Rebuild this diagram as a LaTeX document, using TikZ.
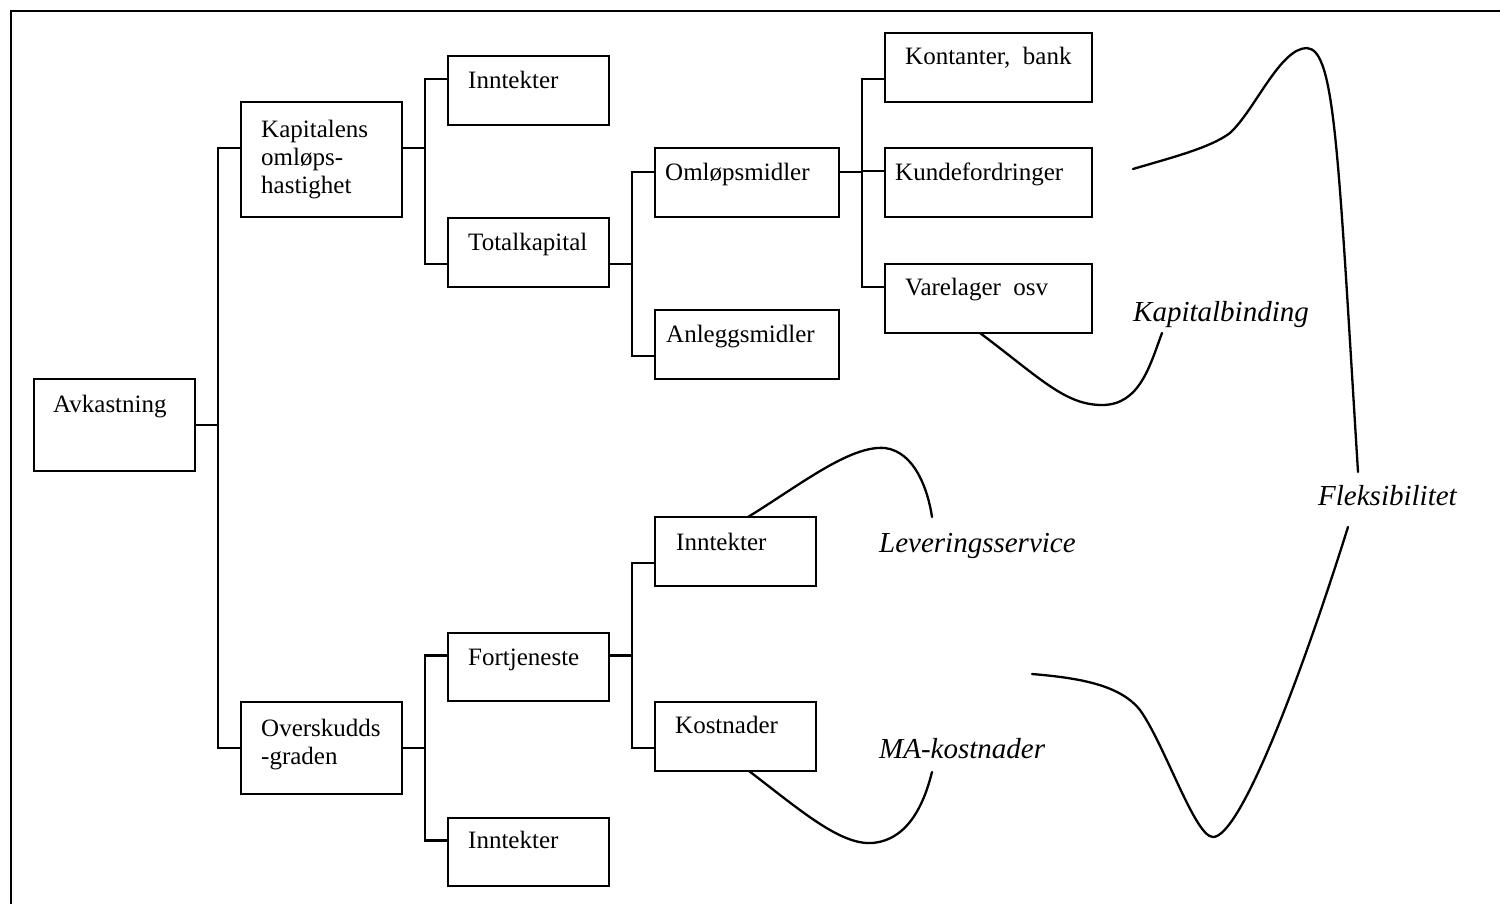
\documentclass[tikz,border=0pt]{standalone}
\usepackage{fontspec}
\setmainfont{Liberation Serif}
\usetikzlibrary{calc}
\begin{document}
\begin{tikzpicture}[x=1pt,y=-1pt,
  box/.style={draw, line width=2.8pt, anchor=north west, inner sep=0pt, outer sep=0pt},
  lbl/.style={anchor=base west, inner sep=0pt, font=\fontsize{25}{28}\selectfont},
  itag/.style={anchor=base west, inner sep=0pt, font=\fontsize{29}{32}\selectfont\itshape},
  conn/.style={line width=2.5pt},
  swoop/.style={line width=2.3pt, line cap=round},
]
\useasboundingbox (0,0) rectangle (1500,903);

% outer frame (open to the right and bottom)
\draw[line width=2.8pt] (11,910) -- (11,11) -- (1510,11);

% boxes
\node[box, minimum width=161, minimum height=92]  (av)   at (34,379)  {};
\node[box, minimum width=161, minimum height=115] (kap)  at (241,102) {};
\node[box, minimum width=161, minimum height=92]  (ovr)  at (241,702) {};
\node[box, minimum width=161, minimum height=69]  (inn1) at (448,56)  {};
\node[box, minimum width=161, minimum height=69]  (tot)  at (448,218) {};
\node[box, minimum width=161, minimum height=68]  (fort) at (448,633) {};
\node[box, minimum width=161, minimum height=68]  (inn3) at (448,818) {};
\node[box, minimum width=184, minimum height=69]  (oml)  at (655,148) {};
\node[box, minimum width=184, minimum height=69]  (anl)  at (655,310) {};
\node[box, minimum width=161, minimum height=69]  (inn2) at (655,517) {};
\node[box, minimum width=161, minimum height=69]  (kost) at (655,702) {};
\node[box, minimum width=207, minimum height=69]  (kont) at (885,33)  {};
\node[box, minimum width=207, minimum height=69]  (kund) at (885,148) {};
\node[box, minimum width=207, minimum height=69]  (var)  at (885,264) {};

% box texts
\node[lbl] (av-t)   at ([shift={(19,33)}]av.north west)   {Avkastning};
\node[lbl, align=left] (kap-t) at ([shift={(20,91)}]kap.north west) {Kapitalens\\omløps-\\hastighet};
\node[lbl, align=left] (ovr-t) at ([shift={(20,62)}]ovr.north west) {Overskudds\\-graden};
\node[lbl] (inn1-t) at ([shift={(20,32)}]inn1.north west) {Inntekter};
\node[lbl] (tot-t)  at ([shift={(20,32)}]tot.north west)  {Totalkapital};
\node[lbl] (fort-t) at ([shift={(20,32)}]fort.north west) {Fortjeneste};
\node[lbl] (inn3-t) at ([shift={(20,30)}]inn3.north west) {Inntekter};
\node[lbl] (oml-t)  at ([shift={(10,32)}]oml.north west)  {Omløpsmidler};
\node[lbl] (anl-t)  at ([shift={(11,32)}]anl.north west)  {Anleggsmidler};
\node[lbl] (inn2-t) at ([shift={(21,33)}]inn2.north west) {Inntekter};
\node[lbl] (kost-t) at ([shift={(20,31)}]kost.north west) {Kostnader};
\node[lbl] (kont-t) at ([shift={(20,31)}]kont.north west) {Kontanter,\ \ bank};
\node[lbl] (kund-t) at ([shift={(10,32)}]kund.north west) {Kundefordringer};
\node[lbl] (var-t)  at ([shift={(20,31)}]var.north west)  {Varelager\ \ osv};

% italic labels
\node[itag] (kb)   at (1133,321) {Kapitalbinding};
\node[itag] (lev)  at (879,552)  {Leveringsservice};
\node[itag] (ma)   at (879,758)  {MA-kostnader};
\node[itag] (flex) at (1318,505) {Fleksibilitet};

% connection points on the box sides
\coordinate (kapE)  at ($(kap.north east)!0.4!(kap.south east)$);
\coordinate (kapW)  at ($(kap.north west)!0.4!(kap.south west)$);
\coordinate (inn1W) at ($(inn1.north west)!0.333!(inn1.south west)$);
\coordinate (totW)  at ($(tot.north west)!0.667!(tot.south west)$);
\coordinate (totE)  at ($(tot.north east)!0.667!(tot.south east)$);
\coordinate (omlW)  at ($(oml.north west)!0.35!(oml.south west)$);
\coordinate (omlE)  at ($(oml.north east)!0.35!(oml.south east)$);
\coordinate (anlW)  at ($(anl.north west)!0.667!(anl.south west)$);
\coordinate (kontW) at ($(kont.north west)!0.667!(kont.south west)$);
\coordinate (kundW) at ($(kund.north west)!0.333!(kund.south west)$);
\coordinate (varW)  at ($(var.north west)!0.333!(var.south west)$);
\coordinate (fortW) at ($(fort.north west)!0.333!(fort.south west)$);
\coordinate (fortE) at ($(fort.north east)!0.333!(fort.south east)$);
\coordinate (inn3W) at ($(inn3.north west)!0.333!(inn3.south west)$);
\coordinate (inn2W) at ($(inn2.north west)!0.667!(inn2.south west)$);
\coordinate (kostW) at ($(kost.north west)!0.667!(kost.south west)$);

% tree connectors
\draw[conn] (av.east) -- ++(23,0) |- (kapW);
\draw[conn] (av.east) -- ++(23,0) |- (ovr.west);
\draw[conn] (kapE) -- ++(23,0) |- (inn1W);
\draw[conn] (kapE) -- ++(23,0) |- (totW);
\draw[conn] (totE) -- ++(23,0) |- (omlW);
\draw[conn] (totE) -- ++(23,0) |- (anlW);
\draw[conn] (omlE) -- ++(23,0) |- (kontW);
\draw[conn] (omlE) -- ++(23,0) |- (kundW);
\draw[conn] (omlE) -- ++(23,0) |- (varW);
\draw[conn] (ovr.east) -- ++(23,0) |- (fortW);
\draw[conn] (ovr.east) -- ++(23,0) |- (inn3W);
\draw[conn] (fortE) -- ++(23,0) |- (inn2W);
\draw[conn] (fortE) -- ++(23,0) |- (kostW);

% curved brackets to the italic labels
\coordinate (varS)  at ([xshift=95]var.south west);
\coordinate (kbE)   at ([shift={(29,12)}]kb.base west);
\draw[swoop] (varS) .. controls (1040,378) and (1065,405) .. (1102,405)
                    .. controls (1140,405) and (1150,365) .. (kbE);

\coordinate (inn2N) at ([xshift=93]inn2.north west);
\coordinate (levE)  at ([shift={(53,-35)}]lev.base west);
\draw[swoop] (inn2N) .. controls (800,485) and (850,445) .. (885,448)
                     .. controls (915,452) and (928,490) .. (levE);

\coordinate (kostS) at ([xshift=94]kost.south west);
\coordinate (maE)   at ([shift={(53,14)}]ma.base west);
\draw[swoop] (kostS) .. controls (800,810) and (840,845) .. (872,843)
                     .. controls (910,840) and (925,800) .. (maE);

\coordinate (fkTop) at (1133,169);
\coordinate (flexN) at ([shift={(40,-33)}]flex.base west);
\draw[swoop] (fkTop) .. controls (1170,158) and (1210,148) .. (1230,133)
                     .. controls (1255,110) and (1280,48) .. (1307,48)
                     .. controls (1335,50) and (1338,150) .. (flexN);

\coordinate (fkBot) at (1032,674);
\coordinate (flexS) at ([shift={(30,22)}]flex.base west);
\draw[swoop] (fkBot) .. controls (1080,678) and (1120,685) .. (1140,710)
                     .. controls (1165,745) and (1195,837) .. (1213,837)
                     .. controls (1240,837) and (1300,680) .. (flexS);
\end{tikzpicture}
\end{document}
